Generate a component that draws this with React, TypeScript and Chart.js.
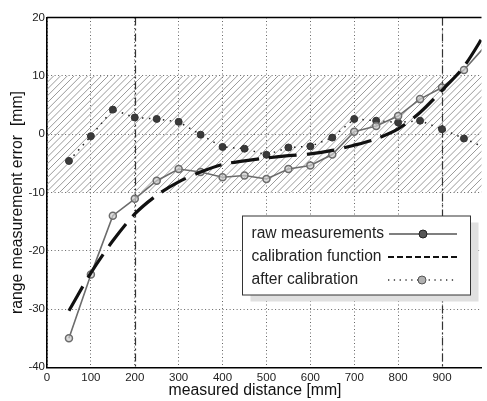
import React, { useEffect, useRef } from "react";
import { Chart, registerables } from "chart.js";

Chart.register(...registerables);

// ---- data ----
const distances = [50, 100, 150, 200, 250, 300, 350, 400, 450, 500, 550, 600, 650, 700, 750, 800, 850, 900, 950, 1000];
const rawMeasurements = [-35, -24.1, -14, -11.1, -8, -6, -6.5, -7.4, -7.1, -7.7, -6.0, -5.4, -3.5, 0.4, 1.4, 3.1, 6.0, 8.0, 11.0, 15.2];
const calibrationFunction = [-30.3, -23.8, -18.3, -13.7, -10.5, -8.2, -6.5, -5.2, -4.6, -4.1, -3.7, -3.4, -2.8, -1.9, -0.8, 0.9, 3.7, 7.5, 11.6, 17.5];
const afterCalibration = [-4.6, -0.35, 4.2, 2.85, 2.6, 2.1, -0.1, -2.2, -2.5, -3.55, -2.3, -2.1, -0.6, 2.6, 2.3, 2.0, 2.3, 0.85, -0.75, -2.4];
const xTicks = [0, 100, 200, 300, 400, 500, 600, 700, 800, 900];
const yTicks = [-40, -30, -20, -10, 0, 10, 20];
const toleranceBand = [-10, 10];
const markerDistances = [200, 900];
const legendLabels = ["raw measurements", "calibration function", "after calibration"];
const xTitle = "measured distance [mm]";
const yTitle = "range measurement error  [mm]";

const FONT = "'Liberation Sans', Arial, Helvetica, sans-serif";

const toPoints = (ys: number[]) => distances.map((x, i) => ({ x, y: ys[i] }));

const decorPlugin = {
  id: "decor",
  beforeDatasetsDraw(chart: any) {
    const { ctx, chartArea, scales } = chart;
    const { left, right, top, bottom } = chartArea;
    const xs = scales.x;
    const ys = scales.y;
    // hatched tolerance band
    const yTop = ys.getPixelForValue(toleranceBand[1]);
    const yBot = ys.getPixelForValue(toleranceBand[0]);
    const h = yBot - yTop;
    ctx.save();
    ctx.beginPath();
    ctx.rect(left, yTop, right - left, h);
    ctx.clip();
    ctx.strokeStyle = "#808080";
    ctx.lineWidth = 0.8;
    ctx.beginPath();
    for (let k = -h; k < right - left + 10; k += 6.8) {
      ctx.moveTo(left + k, yBot);
      ctx.lineTo(left + k + h, yTop);
    }
    ctx.stroke();
    ctx.restore();

    // dash-dot vertical markers
    ctx.save();
    ctx.strokeStyle = "#333";
    ctx.lineWidth = 1.2;
    ctx.setLineDash([8, 3, 2, 3]);
    for (const d of markerDistances) {
      const px = Math.round(xs.getPixelForValue(d)) + 0.5;
      ctx.beginPath();
      ctx.moveTo(px, top);
      ctx.lineTo(px, bottom);
      ctx.stroke();
    }
    ctx.restore();
  },
  afterDraw(chart: any) {
    const { ctx, chartArea } = chart;
    ctx.save();
    // top border
    ctx.strokeStyle = "#000";
    ctx.lineWidth = 1.5;
    ctx.beginPath();
    ctx.moveTo(chartArea.left, chartArea.top);
    ctx.lineTo(chartArea.right, chartArea.top);
    ctx.stroke();

    // axis titles
    ctx.font = `15.8px ${FONT}`;
    ctx.fillStyle = "#111";
    ctx.textAlign = "center";
    ctx.textBaseline = "middle";
    ctx.fillText(xTitle, 255, 391);
    ctx.save();
    ctx.translate(17.5, 202.5);
    ctx.rotate(-Math.PI / 2);
    ctx.fillText(yTitle, 0, 0);
    ctx.restore();

    // legend
    const bx = 242.5, by = 216, bw = 228, bh = 79;
    ctx.fillStyle = "#e0e0e0";
    ctx.fillRect(bx + 8, by + 6.5, bw, bh);
    ctx.fillStyle = "#fff";
    ctx.fillRect(bx, by, bw, bh);
    ctx.strokeStyle = "#333";
    ctx.lineWidth = 1;
    ctx.strokeRect(bx, by, bw, bh);

    ctx.font = `15.6px ${FONT}`;
    ctx.fillStyle = "#222";
    ctx.textBaseline = "middle";
    ctx.textAlign = "left";
    const rows = [234, 257, 280];
    legendLabels.forEach((t, i) => ctx.fillText(t, 251.5, rows[i]));

    const sx0 = 389, sx1 = 457;
    // row 1: solid + dark marker
    ctx.strokeStyle = "#555";
    ctx.lineWidth = 1.5;
    ctx.setLineDash([]);
    ctx.beginPath();
    ctx.moveTo(sx0, rows[0]);
    ctx.lineTo(sx1, rows[0]);
    ctx.stroke();
    ctx.beginPath();
    ctx.arc(423, rows[0], 4, 0, Math.PI * 2);
    ctx.fillStyle = "#555";
    ctx.fill();
    ctx.strokeStyle = "#222";
    ctx.lineWidth = 1;
    ctx.stroke();
    // row 2: dashed
    ctx.strokeStyle = "#111";
    ctx.lineWidth = 2;
    ctx.setLineDash([6, 3]);
    ctx.beginPath();
    ctx.moveTo(sx0 - 1, rows[1]);
    ctx.lineTo(sx1, rows[1]);
    ctx.stroke();
    // row 3: dotted + light marker
    ctx.strokeStyle = "#333";
    ctx.lineWidth = 1.3;
    ctx.setLineDash([1.3, 4.5]);
    ctx.beginPath();
    ctx.moveTo(sx0 - 1, rows[2]);
    ctx.lineTo(sx1, rows[2]);
    ctx.stroke();
    ctx.setLineDash([]);
    ctx.beginPath();
    ctx.arc(422, rows[2], 4, 0, Math.PI * 2);
    ctx.fillStyle = "#b0b0b0";
    ctx.fill();
    ctx.strokeStyle = "#555";
    ctx.lineWidth = 1;
    ctx.stroke();
    ctx.restore();
  },
};

export default function App() {
  const ref = useRef<HTMLCanvasElement | null>(null);

  useEffect(() => {
    if (!ref.current) return;
    const chart = new Chart(ref.current, {
      type: "line",
      data: {
        datasets: [
          {
            label: "calibration function",
            data: toPoints(calibrationFunction),
            borderColor: "#111",
            borderWidth: 3.2,
            borderDash: [28, 10],
            borderCapStyle: "butt",
            pointRadius: 0,
            tension: 0.3,
            fill: false,
          },
          {
            label: "raw measurements",
            data: toPoints(rawMeasurements),
            borderColor: "#6c6c6c",
            borderWidth: 1.6,
            pointRadius: 3.5,
            pointBorderWidth: 1.5,
            pointBorderColor: "#6c6c6c",
            pointBackgroundColor: "rgba(205,205,205,0.7)",
            tension: 0,
            fill: false,
          },
          {
            label: "after calibration",
            data: toPoints(afterCalibration),
            borderColor: "#222",
            borderWidth: 1.5,
            borderDash: [1.5, 5.5],
            pointRadius: 3.5,
            pointBorderWidth: 1,
            pointBorderColor: "#333",
            pointBackgroundColor: "#3a3a3a",
            tension: 0,
            fill: false,
          },
        ],
      },
      options: {
        animation: false,
        responsive: false,
        maintainAspectRatio: false,
        events: [],
        layout: { padding: { left: 0, right: 0, top: 17.5, bottom: 0 } },
        plugins: { legend: { display: false }, tooltip: { enabled: false } },
        scales: {
          x: {
            type: "linear",
            min: 0,
            max: 990,
            afterBuildTicks: (s: any) => {
              s.ticks = xTicks.map((v) => ({ value: v }));
            },
            afterFit: (s: any) => {
              s.height = 33.7;
            },
            grid: { color: "#666", lineWidth: 1, drawTicks: false },
            border: { display: true, color: "#000", width: 1.6, dash: [1, 2.5] },
            ticks: {
              padding: 4,
              color: "#222",
              font: { family: FONT, size: 11.5 },
              maxRotation: 0,
              autoSkip: false,
            },
            title: { display: false },
          },
          y: {
            type: "linear",
            min: -40,
            max: 20,
            afterBuildTicks: (s: any) => {
              s.ticks = yTicks.map((v) => ({ value: v }));
            },
            afterFit: (s: any) => {
              s.width = 47;
            },
            grid: { color: "#666", lineWidth: 1, drawTicks: false },
            border: { display: true, color: "#000", width: 1.6, dash: [1, 2.5] },
            ticks: {
              padding: 2,
              color: "#222",
              font: { family: FONT, size: 11.5 },
              autoSkip: false,
            },
            title: { display: false },
          },
        },
      },
      plugins: [decorPlugin],
    } as any);
    return () => chart.destroy();
  }, []);

  return (
    <div style={{ position: "fixed", left: 0, top: 0, width: 487, height: 401, background: "#fff" }}>
      <canvas ref={ref} width={487} height={401} style={{ display: "block" }} />
    </div>
  );
}
